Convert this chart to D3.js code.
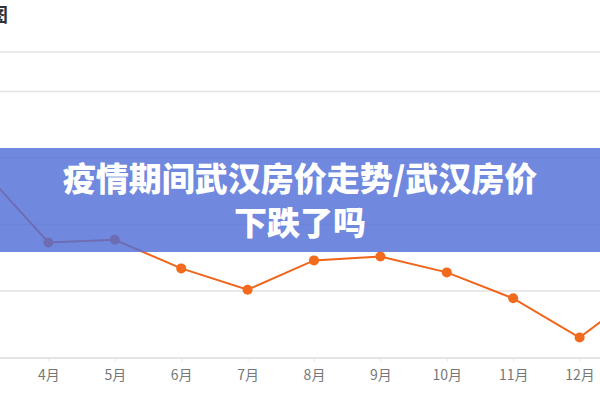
<!DOCTYPE html>
<html>
<head>
<meta charset="utf-8">
<script src="https://cdn.jsdelivr.net/npm/d3@7"></script>
<style>
    html, body { margin: 0; padding: 0; background: #fff; }
    svg { display: block; }
</style>
</head>
<body>
<svg id="chart" width="600" height="400"></svg>
<script>
// months shown on the x axis (3月 and 1月 sit partly off the edges)
const months = ['3月', '4月', '5月', '6月', '7月', '8月', '9月', '10月', '11月', '12月', '1月']
// average price, yuan / m2
const prices = [16830, 15730, 15770, 15340, 15020, 15460, 15520, 15280, 14890, 14300, 15050]
const gridValues = [14000, 15000, 16000, 17000, 18000]
const titleLines = ['疫情期间武汉房价走势/武汉房价', '下跌了吗']

const width = 600
const height = 400

const svg = d3.select('#chart')

const x = d3.scaleLinear()
    .domain([0, months.length - 1])
    .range([-18, 646])

const y = d3.scaleLinear()
    .domain([14000, 18000])
    .range([357.5, 91.5])

// cut-off chart title in the corner
svg.append('text')
    .attr('x', 8)
    .attr('y', 22)
    .attr('text-anchor', 'end')
    .style('font-family', '"Noto Sans CJK SC", sans-serif')
    .style('font-weight', 700)
    .style('font-size', '19px')
    .style('fill', '#333')
    .text('图')

// header rule
svg.append('line')
    .attr('x1', 0).attr('x2', width)
    .attr('y1', 52).attr('y2', 52)
    .style('stroke', '#e2e2e2')
    .style('stroke-width', 1.5)

// grid
svg.append('g')
    .selectAll('line')
    .data(gridValues.slice(1))
    .join('line')
    .attr('x1', 0).attr('x2', width)
    .attr('y1', d => y(d)).attr('y2', d => y(d))
    .style('stroke', '#e2e2e2')
    .style('stroke-width', 1.5)

// x axis
const xAxis = svg.append('g')
    .attr('transform', `translate(0, ${y(gridValues[0])})`)
    .call(d3.axisBottom(x)
        .tickValues(d3.range(months.length))
        .tickFormat(i => months[i])
        .tickSize(4)
        .tickPadding(9))

xAxis.select('.domain')
    .style('stroke', '#dcdcdc')
    .style('stroke-width', 1.5)
xAxis.selectAll('.tick line')
    .style('stroke', '#e6e6e6')
xAxis.selectAll('.tick text')
    .style('fill', '#777')
    .style('font-family', '"Noto Sans CJK SC", sans-serif')
    .style('font-size', '14px')

// price line
const line = d3.line()
    .x((d, i) => x(i))
    .y(d => y(d))

svg.append('path')
    .datum(prices)
    .attr('d', line)
    .style('fill', 'none')
    .style('stroke', '#f0651a')
    .style('stroke-width', 2)

svg.append('g')
    .selectAll('circle')
    .data(prices)
    .join('circle')
    .attr('cx', (d, i) => x(i))
    .attr('cy', d => y(d))
    .attr('r', 5)
    .style('fill', '#f26a1b')

// title banner over the chart
svg.append('rect')
    .attr('x', 0)
    .attr('y', 148)
    .attr('width', width)
    .attr('height', 104)
    .style('fill', 'rgb(80, 110, 215)')
    .style('opacity', 0.82)

svg.append('g')
    .selectAll('text')
    .data(titleLines)
    .join('text')
    .attr('x', width / 2)
    .attr('y', (d, i) => 191 + i * 44)
    .attr('text-anchor', 'middle')
    .style('font-family', '"Noto Sans CJK SC", sans-serif')
    .style('font-weight', 900)
    .style('font-size', '33px')
    .style('fill', '#fff')
    .text(d => d)
</script>
</body>
</html>
